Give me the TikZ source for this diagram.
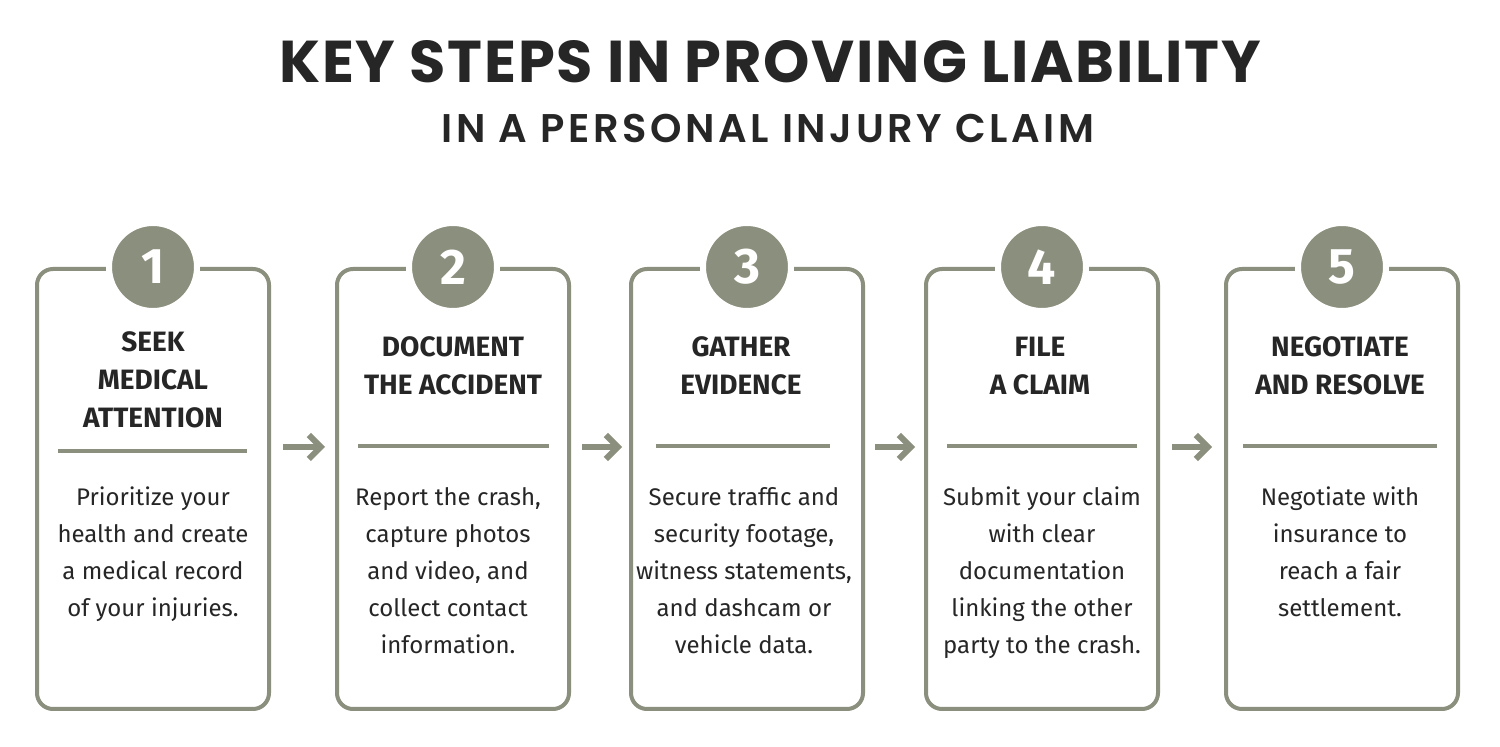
\documentclass[tikz,border=0pt]{standalone}
\usepackage{fontspec}
\setmainfont{Fira Sans}
\newfontfamily\titlefont[LetterSpace=3]{Poppins}
\newfontfamily\subfont[LetterSpace=9]{Poppins SemiBold}
\usetikzlibrary{positioning,arrows.meta,calc}
\definecolor{sage}{HTML}{8B8F7D}
\begin{document}
\begin{tikzpicture}[x=0.5pt,y=-0.5pt,
    box/.style={draw=sage, line width=2pt, rounded corners=8pt, minimum width=116pt, minimum height=220pt, anchor=north},
    num/.style={circle, fill=sage, draw=white, line width=3pt, minimum size=44pt, text=white, font=\fontsize{25}{25}\selectfont\bfseries},
    head/.style={align=center, font=\fontsize{14}{19}\selectfont\bfseries, text=black!85},
    body/.style={align=center, font=\fontsize{12}{18.5}\selectfont, text=black!85},
    sep/.style={draw=sage, line width=1.6pt},
    nextstep/.style={draw=sage, line width=3pt, -{Straight Barb[length=6pt,width=12pt]}}]
    \useasboundingbox[fill=white] (0,0) rectangle (1500,747);
    \node[font=\titlefont\fontsize{29.5}{29.5}\selectfont\bfseries, text=black!85] (title) at (770,62) {KEY STEPS IN PROVING LIABILITY};
    \node[font=\subfont\fontsize{20}{20}\selectfont, text=black!85] (sub) at (768,128) {IN A PERSONAL INJURY CLAIM};
    % boxes
    \node[box] (b1) at (153,267) {};
    \node[box] (b2) at (453,267) {};
    \node[box] (b3) at (747,267) {};
    \node[box] (b4) at (1042,267) {};
    \node[box] (b5) at (1342,267) {};
    % numbers
    \node[num] (n1) at (b1.north) {1};
    \node[num] (n2) at (b2.north) {2};
    \node[num] (n3) at (b3.north) {3};
    \node[num] (n4) at (b4.north) {4};
    \node[num] (n5) at (b5.north) {5};
    % headings
    \node[head] (h1) at (153,380) {SEEK\\MEDICAL\\ATTENTION};
    \node[head] (h2) at (453,366) {DOCUMENT\\THE ACCIDENT};
    \node[head] (h3) at (741,366) {GATHER\\EVIDENCE};
    \node[head] (h4) at (1040,366) {FILE\\A CLAIM};
    \node[head] (h5) at (1340,366) {NEGOTIATE\\AND RESOLVE};
    % separators
    \draw[sep] (58,451) -- (247,451);
    \draw[sep] (358,446) -- (549,446);
    \draw[sep] (656,446) -- (830,446);
    \draw[sep] (947,446) -- (1137,446);
    \draw[sep] (1243,446) -- (1437,446);
    % texts
    \node[body, anchor=north] (t1) at (153,480) {Prioritize your\\health and create\\a medical record\\of your injuries.};
    \node[body, anchor=north] (t2) at (448,480) {Report the crash,\\capture photos\\and video, and\\collect contact\\information.};
    \node[body, anchor=north] (t3) at (744,480) {Secure traffic and\\security footage,\\witness statements,\\and dashcam or\\vehicle data.};
    \node[body, anchor=north] (t4) at (1042,480) {Submit your claim\\with clear\\documentation\\linking the other\\party to the crash.};
    \node[body, anchor=north] (t5) at (1340,480) {Negotiate with\\insurance to\\reach a fair\\settlement.};
    % arrows
    \coordinate (a1) at (283,447); \coordinate (a2) at (325,447);
    \coordinate (a3) at (582,447); \coordinate (a4) at (622,447);
    \coordinate (a5) at (875,447); \coordinate (a6) at (915,447);
    \coordinate (a7) at (1172,447); \coordinate (a8) at (1212,447);
    \draw[nextstep] (a1) -- (a2);
    \draw[nextstep] (a3) -- (a4);
    \draw[nextstep] (a5) -- (a6);
    \draw[nextstep] (a7) -- (a8);
\end{tikzpicture}
\end{document}
